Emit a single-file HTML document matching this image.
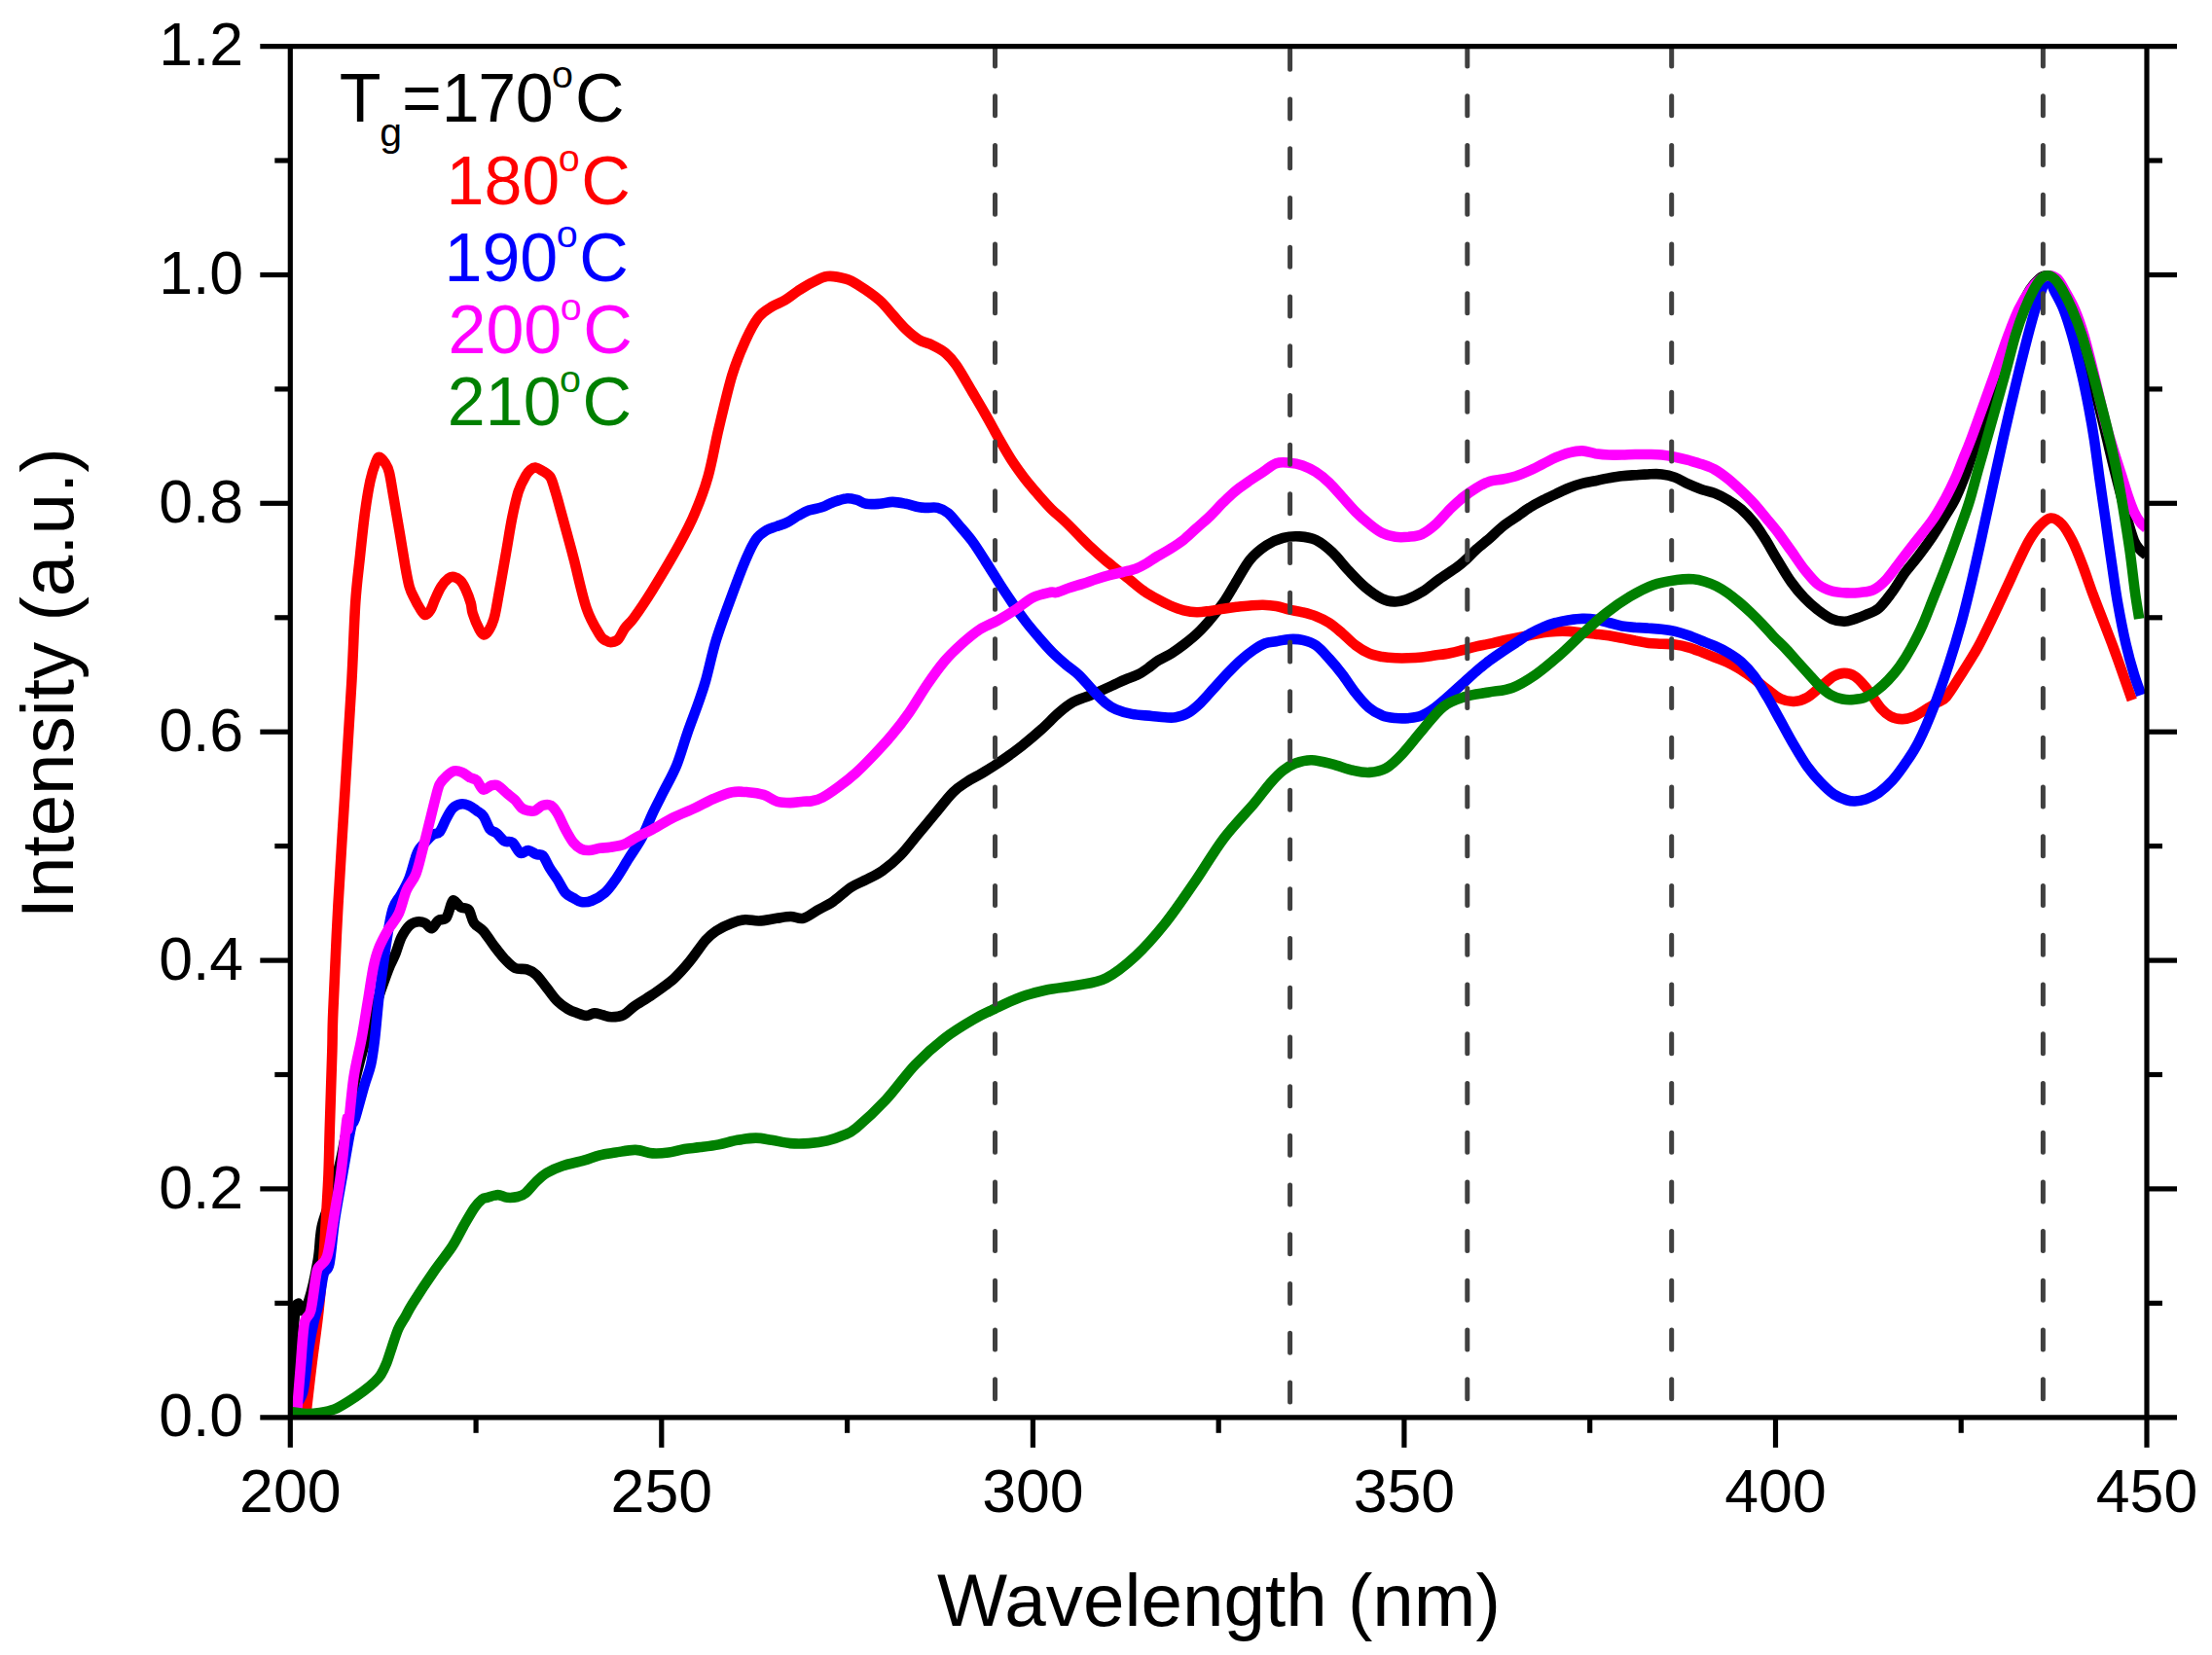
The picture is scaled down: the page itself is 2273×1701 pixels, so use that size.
<!DOCTYPE html>
<html lang="en"><head><meta charset="utf-8"><title>PLE spectra</title>
<style>html,body{margin:0;padding:0;background:#fff;}svg{display:block;}</style>
</head><body>
<svg width="2273" height="1701" viewBox="0 0 2273 1701">
<rect width="2273" height="1701" fill="#ffffff"/>
<defs><clipPath id="plotclip"><rect x="298.3" y="47.6" width="1907.7" height="1412.2"/></clipPath></defs>
<g fill="none" stroke-linejoin="round" stroke-linecap="butt" clip-path="url(#plotclip)">
<path d="M298.5,1456.0C298.8,1446.7 299.2,1417.7 300.0,1400.0C300.8,1382.3 302.0,1360.0 303.0,1350.0C304.0,1340.0 305.0,1340.3 306.2,1339.8C307.4,1339.3 308.1,1347.6 310.0,1347.0C311.9,1346.4 314.7,1344.7 317.5,1336.0C320.3,1327.3 324.6,1307.3 326.8,1294.8C329.0,1282.3 328.3,1271.8 330.6,1261.0C332.9,1250.2 337.4,1241.0 340.5,1230.0C343.6,1219.0 347.0,1205.8 349.5,1195.0C352.0,1184.2 353.6,1174.2 355.5,1165.0C357.4,1155.8 359.6,1148.3 361.0,1140.0C362.4,1131.7 362.5,1123.3 364.0,1115.0C365.5,1106.7 368.0,1097.8 370.0,1090.0C372.0,1082.2 373.8,1075.5 376.0,1068.0C378.2,1060.5 380.7,1052.7 383.0,1045.0C385.3,1037.3 387.8,1028.7 390.0,1022.0C392.2,1015.3 394.2,1010.0 396.0,1005.0C397.8,1000.0 399.2,996.2 401.0,992.0C402.8,987.8 404.6,984.7 406.5,980.0C408.4,975.3 410.0,968.5 412.3,963.7C414.7,959.0 417.8,954.2 420.5,951.5C423.2,948.8 425.9,947.9 428.7,947.4C431.4,947.0 434.3,947.6 436.8,948.8C439.3,949.9 441.4,954.7 443.6,954.2C445.9,953.8 447.9,947.9 450.4,946.1C452.9,944.2 456.3,946.3 458.6,943.3C460.8,940.4 462.6,931.3 464.0,928.4C465.4,925.4 465.1,925.0 466.7,925.7C468.3,926.3 471.0,930.9 473.5,932.5C476.0,934.0 479.4,932.5 481.7,935.2C483.9,937.9 484.6,945.2 487.1,948.8C489.6,952.4 493.2,953.1 496.6,956.9C500.0,960.8 503.9,967.1 507.5,971.9C511.1,976.6 514.8,981.6 518.4,985.5C522.0,989.3 525.4,993.2 529.3,995.0C533.1,996.8 537.9,995.2 541.5,996.4C545.1,997.5 547.6,998.6 551.0,1001.8C554.4,1005.0 558.3,1010.9 561.9,1015.4C565.5,1019.9 569.1,1025.4 572.8,1029.0C576.4,1032.6 580.2,1035.1 583.6,1037.1C587.0,1039.2 590.0,1040.1 593.2,1041.2C596.3,1042.4 599.7,1043.9 602.7,1043.9C605.6,1043.9 608.1,1041.4 610.8,1041.2C613.5,1041.1 616.0,1042.4 619.0,1043.1C621.9,1043.8 624.9,1045.3 628.5,1045.3C632.1,1045.3 636.9,1044.9 640.7,1043.1C644.6,1041.3 646.6,1037.9 651.6,1034.4C656.6,1030.9 663.8,1026.9 670.6,1022.2C677.4,1017.4 686.0,1011.5 692.4,1005.9C698.7,1000.2 703.3,994.8 708.7,988.2C714.1,981.6 720.5,971.7 725.0,966.4C729.6,961.2 731.4,959.9 735.9,956.9C740.4,954.0 747.2,950.7 752.2,948.8C757.2,946.8 761.2,945.6 765.8,945.2C770.4,944.9 774.6,946.7 780.0,946.5C785.4,946.3 792.7,944.5 798.1,943.8C803.5,943.0 808.1,942.0 812.6,942.0C817.1,942.0 820.8,944.9 825.3,943.8C829.8,942.7 834.7,938.5 839.8,935.6C844.9,932.7 850.4,930.5 856.1,926.6C861.8,922.7 868.8,915.7 874.2,912.1C879.6,908.5 883.2,907.7 888.7,904.8C894.2,901.9 900.9,899.0 906.9,894.8C912.9,890.6 919.0,885.6 925.0,879.4C931.0,873.2 937.1,865.0 943.1,857.7C949.1,850.5 955.2,843.1 961.2,835.9C967.2,828.6 974.0,819.6 979.4,814.2C984.8,808.8 989.1,806.5 993.9,803.3C998.7,800.1 1003.6,798.0 1008.4,795.1C1013.2,792.2 1018.1,789.3 1022.9,786.1C1027.7,782.9 1032.6,779.6 1037.4,776.1C1042.2,772.6 1046.5,769.6 1051.9,765.2C1057.3,760.8 1064.0,755.2 1070.0,749.8C1076.0,744.4 1082.7,737.3 1088.1,732.6C1093.5,727.9 1097.2,724.7 1102.6,721.7C1108.0,718.7 1114.0,717.3 1120.7,714.5C1127.4,711.7 1136.8,707.4 1142.7,704.7C1148.6,702.0 1151.8,700.4 1156.3,698.5C1160.8,696.6 1166.1,695.0 1169.9,693.1C1173.8,691.2 1176.0,689.4 1179.4,687.0C1182.8,684.6 1186.2,681.4 1190.3,678.8C1194.4,676.2 1199.4,674.2 1203.9,671.4C1208.4,668.6 1213.0,665.3 1217.5,661.8C1222.0,658.3 1226.6,654.7 1231.1,650.3C1235.6,645.9 1240.2,640.7 1244.7,635.3C1249.2,629.9 1254.2,623.6 1258.3,617.7C1262.4,611.8 1264.7,607.1 1269.1,600.0C1273.5,592.9 1279.2,581.7 1284.6,575.1C1290.0,568.5 1295.9,564.0 1301.5,560.3C1307.1,556.6 1312.8,554.4 1318.4,552.9C1324.0,551.4 1329.7,551.0 1335.3,551.4C1340.9,551.8 1346.6,552.3 1352.2,555.0C1357.8,557.7 1363.5,562.4 1369.1,567.7C1374.7,573.0 1380.3,580.7 1386.0,586.7C1391.7,592.7 1397.3,598.9 1403.0,603.6C1408.7,608.4 1415.0,612.7 1419.9,615.2C1424.8,617.7 1428.4,618.2 1432.6,618.4C1436.8,618.6 1440.3,618.1 1445.2,616.3C1450.1,614.5 1456.6,611.3 1462.2,607.8C1467.8,604.3 1473.3,599.2 1479.1,595.1C1484.9,591.0 1492.6,586.2 1497.0,583.0C1501.4,579.8 1502.1,579.1 1505.5,576.0C1508.9,572.9 1513.0,568.3 1517.2,564.5C1521.4,560.7 1526.3,557.1 1530.8,553.2C1535.3,549.2 1539.8,544.5 1544.4,540.9C1548.9,537.3 1553.4,534.6 1558.0,531.4C1562.5,528.2 1567.0,524.7 1571.6,521.9C1576.1,519.0 1580.6,516.6 1585.2,514.3C1589.7,511.9 1594.2,509.9 1598.8,507.7C1603.3,505.6 1607.8,503.3 1612.3,501.5C1616.9,499.7 1621.4,498.1 1625.9,496.9C1630.5,495.6 1635.0,495.1 1639.5,494.2C1644.1,493.2 1648.6,492.3 1653.1,491.4C1657.7,490.6 1662.2,489.8 1666.7,489.3C1671.3,488.7 1675.8,488.5 1680.3,488.2C1684.9,487.9 1689.4,487.5 1693.9,487.4C1698.4,487.2 1703.0,486.8 1707.5,487.4C1712.0,487.9 1716.6,488.9 1721.1,490.6C1725.6,492.3 1730.2,495.4 1734.7,497.4C1739.2,499.5 1743.8,501.3 1748.3,502.9C1752.8,504.4 1757.4,505.1 1761.9,506.9C1766.4,508.7 1770.9,511.0 1775.5,513.7C1780.0,516.4 1784.6,519.4 1789.1,523.2C1793.5,527.1 1798.1,531.9 1802.1,536.8C1806.2,541.8 1809.1,546.6 1813.3,553.2C1817.4,559.7 1822.3,568.8 1826.9,576.3C1831.4,583.7 1835.9,591.7 1840.5,598.0C1845.0,604.4 1849.5,609.6 1854.0,614.3C1858.6,619.1 1863.0,622.9 1867.6,626.6C1872.3,630.2 1877.5,634.0 1882.1,636.1C1886.7,638.1 1891.1,638.8 1895.1,638.8C1899.1,638.8 1902.4,637.2 1906.0,636.1C1909.6,634.9 1912.8,633.8 1916.9,632.0C1920.9,630.2 1925.9,629.1 1930.5,625.2C1935.0,621.4 1939.5,615.0 1944.1,608.9C1948.6,602.8 1953.1,594.7 1957.6,588.5C1962.2,582.3 1966.5,577.7 1971.2,571.5C1975.9,565.3 1981.5,557.8 1986.0,551.0C1990.5,544.2 1994.6,537.3 1998.4,531.0C2002.2,524.7 2005.4,520.6 2008.9,513.4C2012.4,506.2 2016.3,496.4 2019.5,488.0C2022.7,479.6 2025.9,469.0 2028.0,462.7C2030.1,456.4 2027.7,462.8 2032.2,450.0C2036.7,437.2 2049.4,403.4 2055.0,385.9C2060.6,368.4 2062.5,356.4 2066.0,345.1C2069.5,333.8 2072.7,325.9 2076.0,318.0C2079.3,310.1 2082.7,302.9 2086.0,297.6C2089.3,292.3 2093.2,288.4 2096.0,286.0C2098.8,283.6 2100.7,283.2 2103.0,283.2C2105.3,283.2 2107.7,283.6 2110.0,286.0C2112.3,288.4 2114.2,292.3 2117.0,297.6C2119.8,302.9 2123.7,310.1 2127.0,318.0C2130.3,325.9 2133.4,333.8 2137.0,345.1C2140.6,356.4 2144.7,371.8 2148.5,385.9C2152.3,400.0 2156.1,414.3 2160.0,430.0C2163.9,445.7 2167.8,463.3 2172.0,480.0C2176.2,496.7 2181.5,517.4 2185.0,530.0C2188.5,542.6 2190.5,549.8 2192.9,555.7C2195.3,561.6 2197.1,562.7 2199.2,565.2C2201.3,567.7 2204.5,569.6 2205.6,570.5" stroke="#000000" stroke-width="10.6"/>
<path d="M314.6,1452.1C315.6,1444.0 318.1,1421.0 320.3,1403.4C322.4,1385.9 325.5,1365.7 327.5,1347.0C329.5,1328.3 331.2,1308.2 332.5,1291.0C333.8,1273.8 334.7,1258.0 335.5,1244.0C336.3,1230.0 336.9,1221.0 337.5,1207.0C338.1,1193.0 338.2,1181.0 338.8,1160.0C339.4,1139.0 340.7,1101.0 341.3,1081.0C341.9,1061.0 341.3,1064.9 342.3,1039.9C343.3,1014.9 345.3,969.6 347.4,931.1C349.5,892.6 352.5,847.3 354.8,808.8C357.1,770.3 359.7,731.5 361.4,700.0C363.1,668.5 363.8,641.6 365.2,620.0C366.6,598.4 368.5,586.0 370.1,570.5C371.7,555.0 373.3,539.7 375.0,527.0C376.7,514.3 378.6,502.9 380.4,494.4C382.2,485.9 384.3,480.0 385.9,475.9C387.4,471.8 388.1,469.8 389.7,469.8C391.3,469.8 394.0,473.2 395.7,475.9C397.4,478.5 398.6,479.9 400.0,485.7C401.4,491.5 402.6,500.2 404.4,510.7C406.2,521.2 408.9,536.9 410.9,548.7C412.9,560.5 414.7,572.3 416.3,581.4C417.9,590.5 419.1,597.4 420.7,603.1C422.3,608.8 424.4,611.9 426.1,615.5C427.8,619.1 429.2,621.7 431.0,624.5C432.8,627.3 434.9,631.6 436.8,632.0C438.7,632.4 440.7,629.7 442.4,627.0C444.1,624.3 445.2,620.0 447.0,616.0C448.8,612.0 451.0,606.7 453.3,603.1C455.6,599.5 458.7,596.1 460.9,594.4C463.1,592.7 464.4,592.6 466.4,593.0C468.4,593.4 470.9,594.6 472.9,596.6C474.9,598.6 476.5,601.4 478.3,605.3C480.1,609.2 482.6,615.8 483.8,620.0C485.0,624.2 484.3,626.1 485.8,630.6C487.2,635.1 490.7,643.3 492.6,647.0C494.5,650.6 495.6,652.2 497.2,652.4C498.8,652.6 500.4,651.0 502.1,648.3C503.8,645.6 506.0,640.8 507.5,636.1C509.0,631.4 508.9,630.9 510.9,620.0C512.9,609.1 517.0,585.1 519.6,570.5C522.2,555.9 524.0,543.3 526.2,532.4C528.4,521.5 530.4,512.5 532.7,505.2C535.1,497.9 538.1,492.7 540.3,488.9C542.5,485.1 544.1,483.8 545.7,482.4C547.3,481.0 548.3,480.4 550.1,480.6C551.9,480.8 554.1,481.9 556.6,483.5C559.1,485.1 562.9,486.4 565.3,490.0C567.6,493.6 568.9,499.4 570.7,505.2C572.5,511.0 574.2,517.5 576.2,524.8C578.2,532.0 580.4,540.2 582.7,548.7C585.0,557.2 586.7,563.1 590.0,575.9C593.3,588.7 598.3,612.5 602.7,625.2C607.0,638.0 612.9,646.8 616.3,652.4C619.7,658.0 621.0,657.4 623.1,658.6C625.1,659.9 626.5,660.3 628.5,660.0C630.5,659.7 633.0,659.4 635.3,657.0C637.6,654.6 639.4,649.3 642.1,645.6C644.8,641.9 646.9,641.3 651.6,634.7C656.4,628.1 662.9,618.6 670.6,606.2C678.3,593.7 690.6,573.1 697.8,560.0C705.1,546.8 709.2,539.1 714.1,527.3C719.1,515.5 723.7,503.8 727.7,489.3C731.8,474.8 734.5,457.5 738.6,440.3C742.7,423.1 747.7,400.9 752.2,385.9C756.7,371.0 761.3,360.6 765.8,350.6C770.3,340.6 774.9,332.0 779.4,326.1C783.9,320.2 788.5,318.2 793.0,315.3C797.5,312.3 802.1,311.2 806.6,308.5C811.1,305.7 815.6,301.9 820.2,298.9C824.7,296.0 828.8,293.3 833.8,290.8C838.8,288.3 844.2,284.7 850.1,284.0C856.0,283.3 863.7,285.1 869.1,286.7C874.6,288.3 877.0,289.9 882.7,293.5C888.5,297.1 897.8,303.5 903.6,308.5C909.3,313.4 912.7,318.4 917.2,323.4C921.7,328.4 926.3,334.1 930.8,338.4C935.3,342.7 939.8,346.5 944.4,349.2C948.9,352.0 953.4,352.4 958.0,354.7C962.5,356.9 967.5,359.4 971.6,362.8C975.6,366.2 977.9,368.5 982.4,375.1C987.0,381.6 993.8,393.9 998.8,402.3C1003.7,410.6 1007.8,417.4 1012.3,425.4C1016.9,433.3 1021.4,441.9 1025.9,449.8C1030.5,457.8 1035.0,465.9 1039.5,472.9C1044.1,480.0 1048.6,486.1 1053.1,492.0C1057.7,497.9 1062.2,503.1 1066.7,508.3C1071.3,513.5 1075.8,518.7 1080.3,523.2C1084.9,527.8 1089.4,531.2 1093.9,535.5C1098.4,539.8 1103.0,544.5 1107.5,549.1C1112.0,553.6 1116.6,558.4 1121.1,562.7C1125.6,567.0 1130.2,571.1 1134.7,574.9C1139.2,578.8 1143.8,582.2 1148.3,585.8C1152.8,589.4 1157.4,593.0 1161.9,596.7C1166.4,600.3 1170.9,604.4 1175.5,607.5C1180.0,610.7 1184.5,613.2 1189.1,615.7C1193.6,618.2 1198.1,620.5 1202.7,622.5C1207.2,624.4 1211.7,626.2 1216.3,627.4C1220.8,628.5 1225.3,629.2 1229.9,629.3C1234.4,629.4 1238.9,628.5 1243.5,627.9C1248.0,627.3 1252.5,626.4 1257.0,625.7C1261.6,625.1 1266.1,624.4 1270.6,623.8C1275.2,623.3 1279.7,622.8 1284.2,622.5C1288.8,622.1 1293.3,621.6 1297.8,621.7C1302.4,621.8 1306.9,622.2 1311.4,623.0C1316.0,623.8 1320.5,625.5 1325.0,626.6C1329.6,627.6 1334.1,628.1 1338.6,629.3C1343.1,630.4 1347.7,631.5 1352.2,633.4C1356.7,635.2 1361.3,637.2 1365.8,640.2C1370.3,643.1 1374.9,647.2 1379.4,651.0C1383.9,654.9 1388.5,659.9 1393.0,663.3C1397.5,666.7 1402.1,669.5 1406.6,671.4C1411.1,673.4 1415.6,674.1 1420.2,675.0C1424.7,675.8 1429.2,676.1 1433.8,676.3C1438.3,676.5 1442.8,676.5 1447.4,676.3C1451.9,676.2 1456.4,676.0 1461.0,675.5C1465.5,675.0 1469.7,674.3 1474.6,673.6C1479.4,672.9 1485.2,672.2 1490.0,671.2C1494.8,670.3 1499.1,669.1 1503.6,668.0C1508.1,666.8 1512.7,665.5 1517.2,664.4C1521.7,663.4 1526.3,662.7 1530.8,661.7C1535.3,660.7 1539.8,659.5 1544.4,658.5C1548.9,657.5 1553.4,656.6 1558.0,655.7C1562.5,654.8 1567.0,653.9 1571.6,653.0C1576.1,652.1 1580.6,651.0 1585.2,650.3C1589.7,649.6 1594.2,649.2 1598.8,648.9C1603.3,648.7 1607.8,648.7 1612.3,648.9C1616.9,649.2 1621.4,649.8 1625.9,650.3C1630.5,650.8 1635.0,651.2 1639.5,651.7C1644.1,652.2 1648.6,652.6 1653.1,653.3C1657.7,654.0 1662.2,654.9 1666.7,655.7C1671.3,656.6 1675.8,657.6 1680.3,658.5C1684.9,659.3 1689.4,660.4 1693.9,660.9C1698.4,661.4 1703.0,661.4 1707.5,661.7C1712.0,662.0 1716.6,661.9 1721.1,662.5C1725.6,663.1 1730.2,664.0 1734.7,665.3C1739.2,666.5 1743.8,668.4 1748.3,670.1C1752.8,671.9 1757.4,673.8 1761.9,675.6C1766.4,677.4 1770.9,678.9 1775.5,681.0C1780.0,683.2 1784.5,685.6 1789.1,688.4C1793.6,691.2 1798.1,694.5 1802.7,697.9C1807.2,701.3 1811.7,705.4 1816.3,708.8C1820.8,712.2 1825.3,716.2 1829.9,718.3C1834.4,720.3 1838.9,721.2 1843.5,721.0C1848.0,720.8 1852.5,719.4 1857.0,716.9C1861.6,714.4 1866.1,709.7 1870.6,706.0C1875.2,702.4 1880.2,697.5 1884.2,695.2C1888.3,692.8 1891.5,691.9 1895.1,691.9C1898.7,691.9 1902.4,692.8 1906.0,695.2C1909.6,697.5 1913.9,702.6 1916.9,706.0C1919.8,709.4 1921.1,711.8 1923.8,715.5C1926.5,719.2 1930.1,725.0 1933.2,728.5C1936.3,732.0 1939.1,734.4 1942.6,736.2C1946.1,738.0 1950.5,739.0 1954.4,739.1C1958.3,739.2 1962.3,738.3 1966.2,736.7C1970.1,735.1 1974.1,732.1 1978.0,729.7C1981.9,727.4 1986.1,724.9 1989.8,722.6C1993.5,720.4 1995.8,721.1 2000.0,716.2C2004.2,711.3 2009.9,701.5 2015.3,693.1C2020.7,684.7 2026.9,675.1 2032.2,665.6C2037.5,656.1 2042.1,646.2 2047.0,636.0C2051.9,625.8 2057.2,614.2 2061.8,604.3C2066.4,594.4 2070.6,584.9 2074.5,576.8C2078.4,568.7 2081.5,561.7 2085.0,555.7C2088.5,549.7 2091.9,544.8 2095.6,540.9C2099.3,537.0 2103.3,532.9 2107.2,532.5C2111.1,532.1 2115.2,534.9 2118.9,538.8C2122.6,542.7 2125.9,548.7 2129.4,555.7C2132.9,562.7 2136.5,571.8 2140.0,581.0C2143.5,590.2 2147.1,601.2 2150.6,610.7C2154.1,620.2 2157.7,629.1 2161.2,638.2C2164.7,647.4 2168.2,656.1 2171.7,665.6C2175.2,675.1 2179.1,686.2 2182.3,695.2C2185.5,704.2 2189.4,715.5 2190.8,719.6" stroke="#ff0000" stroke-width="10.6"/>
<path d="M300.0,1447.0C301.8,1444.4 308.1,1441.9 311.0,1431.5C313.9,1421.1 315.6,1396.9 317.5,1384.7C319.4,1372.5 320.8,1366.0 322.5,1358.5C324.2,1351.0 325.8,1347.9 327.5,1339.8C329.2,1331.7 330.7,1316.7 332.5,1309.8C334.3,1302.9 336.6,1308.0 338.5,1298.6C340.4,1289.2 341.7,1268.9 344.0,1253.6C346.3,1238.3 349.4,1222.4 352.1,1206.8C354.9,1191.2 358.4,1169.5 360.5,1160.0C362.6,1150.5 362.5,1157.3 364.8,1150.0C367.1,1142.6 371.6,1125.3 374.3,1116.0C377.0,1106.7 379.3,1102.4 381.1,1094.2C382.9,1086.1 383.8,1078.4 385.2,1067.0C386.5,1055.7 387.7,1039.9 389.2,1026.3C390.8,1012.7 393.0,997.7 394.7,985.5C396.4,973.2 398.0,961.7 399.6,952.9C401.2,944.0 402.1,938.1 404.2,932.5C406.3,926.8 409.6,923.9 412.3,918.9C415.1,913.9 418.1,908.7 420.5,902.6C422.9,896.4 425.2,886.9 426.8,882.2C428.3,877.4 428.3,876.7 430.0,874.0C431.7,871.3 434.3,868.6 436.8,865.9C439.3,863.1 442.5,859.5 445.0,857.7C447.5,855.9 449.5,857.7 451.8,855.0C454.0,852.3 456.3,845.5 458.6,841.4C460.8,837.3 462.9,833.0 465.4,830.5C467.9,828.0 470.8,826.9 473.5,826.4C476.2,826.0 479.0,826.7 481.7,827.8C484.4,828.9 487.3,831.4 489.8,833.2C492.3,835.0 494.4,835.5 496.6,838.7C498.9,841.8 501.2,849.3 503.4,852.3C505.7,855.2 507.7,854.3 510.2,856.3C512.7,858.4 515.7,862.9 518.4,864.5C521.1,866.1 523.8,863.8 526.5,865.9C529.3,867.9 532.0,875.4 534.7,876.7C537.4,878.1 540.1,873.8 542.9,874.0C545.6,874.2 548.5,877.2 551.0,878.1C553.5,879.0 555.5,877.2 557.8,879.4C560.1,881.7 562.1,887.6 564.6,891.7C567.1,895.8 570.0,899.6 572.8,903.9C575.5,908.2 578.2,914.3 580.9,917.5C583.6,920.7 586.4,921.4 589.1,922.9C591.8,924.5 594.1,926.6 597.2,927.0C600.4,927.5 604.0,927.3 608.1,925.7C612.2,924.1 617.6,921.1 621.7,917.5C625.8,913.9 628.5,909.8 632.6,903.9C636.7,898.0 641.6,889.4 646.2,882.2C650.7,874.9 655.7,868.1 659.8,860.4C663.8,852.7 667.0,843.6 670.6,835.9C674.3,828.2 677.4,822.3 681.5,814.2C685.6,806.0 691.0,797.0 695.1,787.0C699.2,777.0 702.4,764.8 706.0,754.4C709.6,744.0 713.7,733.5 716.9,724.5C720.0,715.4 721.8,711.1 725.0,700.0C728.2,688.9 731.4,672.6 735.9,657.8C740.4,643.1 747.2,625.2 752.2,611.6C757.2,598.0 761.7,585.8 765.8,576.3C769.9,566.7 773.1,559.7 776.7,554.5C780.3,549.3 783.9,547.3 787.6,545.0C791.2,542.7 794.8,542.3 798.4,540.9C802.1,539.6 805.7,538.7 809.3,536.8C812.9,535.0 816.6,532.1 820.2,530.0C823.8,528.0 827.0,526.1 831.1,524.6C835.1,523.2 840.6,522.7 844.6,521.3C848.7,520.0 851.4,517.9 855.5,516.4C859.6,515.0 865.0,512.8 869.1,512.4C873.2,511.9 876.5,512.8 880.0,513.7C883.5,514.6 886.1,517.1 890.0,517.8C893.9,518.5 899.1,518.1 903.6,517.8C908.1,517.5 912.7,515.9 917.2,515.9C921.7,515.9 926.3,516.9 930.8,517.8C935.3,518.7 940.8,520.7 944.4,521.3C948.0,522.0 949.4,521.8 952.5,521.9C955.7,522.0 959.8,521.0 963.4,521.9C967.0,522.8 970.7,524.4 974.3,527.3C977.9,530.3 981.1,534.8 985.2,539.6C989.2,544.3 994.2,549.8 998.8,555.9C1003.3,562.0 1007.6,568.9 1012.3,576.3C1017.1,583.6 1022.5,592.6 1027.2,600.0C1031.9,607.4 1036.3,613.8 1040.8,620.4C1045.3,627.0 1049.9,633.5 1054.4,639.4C1058.9,645.3 1063.5,650.5 1068.0,655.7C1072.5,660.9 1077.1,666.2 1081.6,670.7C1086.1,675.2 1090.6,679.0 1095.1,682.9C1099.6,686.8 1104.2,689.5 1108.7,693.8C1113.2,698.1 1117.8,704.0 1122.3,708.7C1126.8,713.5 1131.8,718.9 1135.9,722.3C1140.0,725.7 1142.3,727.2 1146.8,729.1C1151.3,731.0 1157.0,732.8 1163.1,733.9C1169.2,735.0 1177.8,735.3 1183.5,735.9C1189.2,736.5 1193.0,737.1 1197.1,737.3C1201.2,737.5 1204.2,738.0 1208.0,737.3C1211.8,736.6 1215.9,735.7 1220.2,733.2C1224.5,730.7 1229.3,726.6 1233.8,722.3C1238.3,718.0 1242.9,712.4 1247.4,707.4C1251.9,702.4 1256.5,697.2 1261.0,692.4C1265.5,687.6 1270.1,682.9 1274.6,678.8C1279.1,674.7 1284.0,670.9 1288.2,668.0C1292.4,665.1 1296.1,662.7 1300.0,661.2C1303.9,659.7 1307.3,659.9 1311.4,659.2C1315.6,658.5 1320.5,657.2 1325.0,657.0C1329.6,656.8 1334.1,656.8 1338.6,657.8C1343.1,658.9 1347.7,660.1 1352.2,663.3C1356.7,666.4 1361.3,671.9 1365.8,676.9C1370.3,681.8 1374.9,687.3 1379.4,693.2C1383.9,699.1 1388.5,706.6 1393.0,712.2C1397.5,717.9 1402.1,723.3 1406.6,727.2C1411.1,731.0 1415.6,733.5 1420.2,735.3C1424.7,737.2 1429.2,737.6 1433.8,738.1C1438.3,738.5 1442.8,738.5 1447.4,738.1C1451.9,737.6 1456.4,737.2 1461.0,735.3C1465.5,733.5 1469.7,730.7 1474.6,727.2C1479.4,723.7 1485.2,718.4 1490.0,714.2C1494.8,710.0 1499.1,706.0 1503.6,702.0C1508.1,697.9 1512.7,693.6 1517.2,689.7C1521.7,685.9 1526.3,682.2 1530.8,678.8C1535.3,675.4 1539.8,672.4 1544.4,669.3C1548.9,666.2 1553.4,663.3 1558.0,660.4C1562.5,657.4 1567.0,654.2 1571.6,651.7C1576.1,649.1 1580.6,646.8 1585.2,644.9C1589.7,642.9 1594.2,641.2 1598.8,640.0C1603.3,638.7 1607.8,637.9 1612.3,637.2C1616.9,636.6 1621.4,636.0 1625.9,635.9C1630.5,635.8 1635.0,636.0 1639.5,636.7C1644.1,637.4 1648.6,638.8 1653.1,640.0C1657.7,641.1 1662.2,642.7 1666.7,643.5C1671.3,644.3 1675.8,644.5 1680.3,644.9C1684.9,645.2 1689.4,645.4 1693.9,645.7C1698.4,646.0 1703.0,646.2 1707.5,646.8C1712.0,647.3 1716.6,647.9 1721.1,648.9C1725.6,650.0 1730.2,651.4 1734.7,653.0C1739.2,654.6 1743.8,656.6 1748.3,658.5C1752.8,660.3 1757.4,661.9 1761.9,663.9C1766.4,665.9 1770.9,668.0 1775.5,670.7C1780.0,673.4 1784.5,676.1 1789.1,680.2C1793.6,684.3 1798.1,689.0 1802.7,695.2C1807.2,701.3 1811.7,709.2 1816.3,716.9C1820.8,724.6 1825.3,733.2 1829.9,741.4C1834.4,749.5 1838.9,758.1 1843.5,765.9C1848.0,773.6 1852.5,781.3 1857.0,787.6C1861.6,793.9 1866.1,799.2 1870.6,803.9C1875.2,808.7 1879.7,813.1 1884.2,816.2C1888.8,819.2 1894.2,821.2 1897.8,822.4C1901.5,823.6 1902.8,823.6 1906.0,823.5C1909.2,823.4 1912.8,823.0 1916.9,821.6C1920.9,820.1 1925.9,818.0 1930.5,814.8C1935.0,811.6 1939.5,807.5 1944.1,802.6C1948.6,797.6 1953.1,791.5 1957.6,784.9C1962.2,778.3 1966.2,773.1 1971.2,763.1C1976.3,753.1 1982.6,738.2 1987.8,724.8C1993.0,711.4 1998.0,696.7 2002.6,682.6C2007.2,668.5 2011.4,654.4 2015.3,640.3C2019.2,626.2 2022.4,612.8 2025.9,598.0C2029.4,583.2 2032.9,567.4 2036.4,551.5C2039.9,535.6 2043.3,519.8 2047.0,502.9C2050.7,486.0 2054.2,469.5 2058.6,450.0C2063.0,430.5 2069.4,403.4 2073.6,385.9C2077.8,368.4 2080.9,356.4 2083.8,345.1C2086.8,333.8 2088.9,325.9 2091.3,318.0C2093.7,310.1 2096.3,302.9 2098.0,298.0C2099.7,293.1 2100.2,290.8 2101.2,288.5C2102.2,286.2 2103.2,284.2 2104.2,284.2C2105.2,284.2 2106.2,286.2 2107.3,288.5C2108.4,290.8 2108.4,293.1 2110.6,298.0C2112.8,302.9 2117.4,310.1 2120.5,318.0C2123.6,325.9 2126.1,333.8 2129.3,345.1C2132.5,356.4 2136.6,373.4 2139.5,385.9C2142.4,398.4 2144.4,409.0 2146.5,420.0C2148.6,431.0 2150.2,439.9 2152.0,452.0C2153.8,464.1 2155.6,478.5 2157.5,492.3C2159.4,506.1 2161.6,520.5 2163.6,534.6C2165.6,548.7 2167.5,562.7 2169.6,576.8C2171.7,590.9 2173.5,605.0 2176.0,619.1C2178.5,633.2 2181.6,649.1 2184.4,661.4C2187.2,673.7 2190.2,684.3 2192.9,693.1C2195.6,701.9 2199.1,710.8 2200.3,714.3" stroke="#0000ff" stroke-width="10.6"/>
<path d="M305.3,1449.0C305.9,1441.3 307.8,1417.8 309.0,1403.0C310.2,1388.2 311.1,1369.3 312.8,1360.0C314.5,1350.7 317.3,1355.3 319.3,1347.0C321.3,1338.7 323.6,1317.5 325.0,1310.0C326.4,1302.5 325.9,1305.2 327.8,1302.0C329.7,1298.8 333.7,1299.1 336.2,1291.0C338.7,1282.9 340.4,1267.6 342.7,1253.6C345.0,1239.6 347.9,1224.1 350.2,1206.8C352.5,1189.5 355.4,1157.8 356.6,1150.0C357.9,1142.2 356.6,1167.0 357.7,1160.0C358.8,1153.0 361.1,1123.3 363.4,1107.8C365.7,1092.3 369.1,1080.6 371.6,1067.0C374.1,1053.5 376.3,1038.5 378.4,1026.3C380.4,1014.0 382.0,1002.2 383.8,993.6C385.6,985.0 386.7,980.9 389.2,974.6C391.7,968.3 395.4,961.5 398.8,955.6C402.2,949.7 406.5,946.1 409.6,939.3C412.8,932.5 414.8,921.6 417.8,914.8C420.7,908.0 424.6,905.3 427.3,898.5C430.0,891.7 431.6,883.5 434.1,874.0C436.6,864.5 440.0,850.4 442.3,841.4C444.5,832.3 446.1,825.5 447.7,819.6C449.3,813.7 450.0,809.7 451.8,806.0C453.6,802.4 456.1,800.1 458.6,797.9C461.1,795.6 464.0,793.1 466.7,792.4C469.4,791.8 472.2,792.7 474.9,793.8C477.6,794.9 480.5,797.9 483.0,799.2C485.5,800.6 487.6,799.9 489.8,802.0C492.1,804.0 494.1,810.6 496.6,811.5C499.1,812.4 502.3,808.1 504.8,807.4C507.3,806.7 508.9,806.0 511.6,807.4C514.3,808.8 518.2,813.1 521.1,815.6C524.0,818.0 526.8,819.9 529.3,822.3C531.8,824.8 533.8,828.7 536.1,830.5C538.3,832.3 540.6,832.8 542.9,833.2C545.1,833.7 547.2,834.1 549.7,833.2C552.1,832.3 555.1,828.7 557.8,827.8C560.5,826.9 563.5,826.4 566.0,827.8C568.5,829.1 570.3,831.9 572.8,835.9C575.3,840.0 578.2,847.3 580.9,852.3C583.6,857.2 586.4,862.5 589.1,865.9C591.8,869.2 594.5,871.3 597.2,872.6C600.0,874.0 602.2,874.1 605.4,874.0C608.6,873.9 612.6,872.4 616.3,871.8C619.9,871.3 623.1,871.4 627.1,870.7C631.2,870.1 636.2,869.7 640.7,868.0C645.3,866.3 649.3,863.0 654.3,860.4C659.3,857.8 664.3,855.7 670.6,852.3C677.0,848.9 685.1,843.6 692.4,840.0C699.6,836.4 707.3,833.7 714.1,830.5C720.9,827.3 726.8,823.7 733.2,821.0C739.5,818.3 746.3,815.3 752.2,814.2C758.1,813.1 763.1,813.7 768.5,814.2C774.0,814.6 779.8,815.3 784.8,816.9C789.8,818.5 793.9,822.3 798.4,823.7C803.0,825.1 807.5,825.1 812.0,825.1C816.6,825.1 821.9,824.0 825.6,823.7C829.3,823.4 831.1,823.9 834.4,823.2C837.7,822.5 840.7,822.0 845.2,819.6C849.7,817.2 855.9,812.9 861.6,808.7C867.4,804.5 873.7,799.6 879.7,794.2C885.7,788.8 891.8,782.4 897.8,776.1C903.8,769.8 909.8,763.5 915.9,756.2C922.0,749.0 928.0,741.3 934.1,732.6C940.2,723.9 946.4,712.9 952.5,704.0C958.6,695.1 964.6,686.6 970.6,679.5C976.6,672.4 982.7,666.8 988.7,661.4C994.8,656.0 1000.9,650.8 1006.9,646.9C1012.9,643.0 1019.0,641.1 1025.0,637.8C1031.0,634.5 1037.1,630.8 1043.1,626.9C1049.1,623.0 1055.2,617.2 1061.2,614.2C1067.2,611.2 1075.3,609.7 1079.4,608.8C1083.5,607.9 1082.4,609.7 1085.8,608.9C1089.1,608.1 1094.8,605.5 1099.4,604.0C1103.9,602.5 1108.4,601.4 1112.9,599.9C1117.5,598.5 1122.0,596.7 1126.5,595.3C1131.1,593.8 1135.6,592.4 1140.1,591.2C1144.7,590.0 1149.2,589.1 1153.7,588.0C1158.3,586.8 1163.2,585.9 1167.3,584.4C1171.4,582.9 1174.6,581.1 1178.2,579.0C1181.8,576.9 1185.0,574.4 1189.1,571.9C1193.2,569.4 1198.1,566.9 1202.7,564.0C1207.2,561.2 1211.7,558.4 1216.3,554.8C1220.8,551.2 1225.3,546.6 1229.9,542.6C1234.4,538.5 1238.9,534.7 1243.5,530.3C1248.0,525.9 1252.5,520.7 1257.0,516.3C1261.6,511.9 1266.1,507.5 1270.6,503.8C1275.2,500.1 1279.7,497.1 1284.2,494.0C1288.8,490.9 1293.3,488.1 1297.8,485.1C1302.4,482.1 1306.9,477.8 1311.4,476.2C1316.0,474.6 1320.5,475.3 1325.0,475.7C1329.6,476.0 1334.1,476.8 1338.6,478.4C1343.1,480.0 1347.7,482.2 1352.2,485.2C1356.7,488.1 1361.3,491.8 1365.8,496.1C1370.3,500.4 1374.9,506.0 1379.4,511.0C1383.9,516.0 1388.5,521.4 1393.0,526.0C1397.5,530.5 1402.1,534.6 1406.6,538.2C1411.1,541.8 1415.6,545.5 1420.2,547.7C1424.7,550.0 1429.2,551.1 1433.8,551.8C1438.3,552.5 1442.8,552.2 1447.4,551.8C1451.9,551.3 1456.4,551.1 1461.0,549.1C1465.5,547.0 1469.7,543.9 1474.6,539.6C1479.4,535.3 1485.2,528.0 1490.0,523.2C1494.8,518.5 1499.1,514.6 1503.6,511.0C1508.1,507.4 1512.7,504.2 1517.2,501.5C1521.7,498.8 1526.3,496.2 1530.8,494.7C1535.3,493.2 1539.8,493.4 1544.4,492.5C1548.9,491.6 1553.4,490.7 1558.0,489.3C1562.5,487.8 1567.0,485.9 1571.6,483.8C1576.1,481.8 1580.6,479.3 1585.2,477.0C1589.7,474.8 1594.2,472.2 1598.8,470.2C1603.3,468.3 1607.8,466.5 1612.3,465.3C1616.9,464.2 1621.4,463.3 1625.9,463.4C1630.5,463.6 1635.0,465.5 1639.5,466.2C1644.1,466.8 1648.6,467.3 1653.1,467.5C1657.7,467.7 1662.2,467.6 1666.7,467.5C1671.3,467.4 1675.8,467.1 1680.3,467.0C1684.9,466.9 1689.4,466.9 1693.9,467.0C1698.4,467.1 1703.0,467.1 1707.5,467.5C1712.0,468.0 1716.6,468.8 1721.1,469.7C1725.6,470.6 1730.2,471.7 1734.7,472.9C1739.2,474.2 1743.8,475.4 1748.3,477.0C1752.8,478.6 1757.4,480.0 1761.9,482.5C1766.4,485.0 1770.9,488.4 1775.5,492.0C1780.0,495.6 1784.5,499.9 1789.1,504.2C1793.6,508.5 1798.3,513.1 1802.7,517.8C1807.0,522.6 1811.1,527.8 1815.2,532.8C1819.3,537.7 1823.1,542.1 1827.4,547.7C1831.6,553.4 1836.4,560.4 1841.0,566.7C1845.5,573.1 1850.0,580.1 1854.5,585.8C1859.1,591.4 1863.5,597.1 1868.1,600.7C1872.8,604.4 1877.5,606.1 1882.4,607.5C1887.4,609.0 1893.0,609.2 1897.8,609.4C1902.7,609.7 1906.9,609.4 1911.4,608.9C1916.0,608.3 1920.5,608.4 1925.0,606.2C1929.6,603.9 1934.1,600.1 1938.6,595.3C1943.1,590.5 1947.7,583.5 1952.2,577.6C1956.7,571.7 1960.2,567.1 1965.8,560.0C1971.4,552.8 1980.3,542.4 1985.7,534.6C1991.1,526.8 1994.5,520.4 1998.4,513.4C2002.3,506.3 2005.7,499.4 2008.9,492.3C2012.1,485.2 2014.6,478.2 2017.4,471.1C2020.2,464.1 2020.6,464.2 2025.9,450.0C2031.2,435.8 2042.8,403.4 2049.1,385.9C2055.3,368.4 2059.2,356.4 2063.4,345.1C2067.6,333.8 2070.5,325.9 2074.3,318.0C2078.2,310.1 2082.7,302.9 2086.5,297.6C2090.3,292.4 2093.8,288.9 2097.0,286.5C2100.2,284.1 2102.7,283.2 2105.5,283.2C2108.3,283.2 2111.4,284.1 2114.0,286.5C2116.6,288.9 2118.2,292.4 2121.2,297.6C2124.2,302.9 2128.6,310.1 2132.0,318.0C2135.4,325.9 2138.0,333.1 2141.5,345.1C2145.0,357.1 2149.1,374.2 2153.0,390.0C2156.9,405.8 2160.3,422.9 2165.0,440.0C2169.7,457.1 2177.6,480.8 2181.2,492.3C2184.8,503.8 2184.6,503.6 2186.5,509.2C2188.4,514.8 2190.8,521.5 2192.9,526.1C2195.0,530.7 2197.1,533.9 2199.2,536.7C2201.3,539.5 2204.5,542.0 2205.6,543.0" stroke="#ff00ff" stroke-width="10.6"/>
<path d="M298.7,1451.0C301.2,1451.3 308.7,1452.8 313.7,1453.0C318.7,1453.2 323.7,1452.8 328.7,1452.0C333.7,1451.2 338.7,1450.4 343.7,1448.4C348.7,1446.4 353.7,1443.1 358.7,1440.0C363.7,1436.9 369.2,1433.0 373.6,1429.7C378.0,1426.4 381.9,1423.1 384.9,1420.3C387.9,1417.5 389.4,1415.9 391.4,1412.8C393.4,1409.7 395.1,1406.3 397.0,1401.6C398.9,1396.9 400.7,1390.6 402.7,1384.7C404.7,1378.8 406.9,1371.3 409.2,1366.0C411.5,1360.7 414.2,1357.3 416.7,1352.9C419.2,1348.5 419.0,1347.7 424.0,1339.8C429.0,1331.9 439.8,1315.6 446.6,1305.8C453.4,1296.0 459.9,1288.5 464.8,1280.9C469.7,1273.4 472.3,1267.1 476.1,1260.5C479.9,1253.9 484.2,1246.2 487.4,1241.5C490.6,1236.8 493.3,1234.3 495.5,1232.5C497.7,1230.7 498.0,1231.5 500.7,1230.8C503.4,1230.1 508.2,1228.1 511.6,1228.1C515.0,1228.1 517.7,1230.5 521.1,1230.8C524.5,1231.1 528.8,1230.8 532.0,1230.0C535.2,1229.2 537.0,1228.8 540.1,1226.2C543.3,1223.6 547.4,1217.9 551.0,1214.5C554.6,1211.0 557.4,1208.2 561.9,1205.5C566.4,1202.8 571.9,1200.3 578.2,1198.2C584.5,1196.0 593.6,1194.6 600.0,1192.7C606.3,1190.9 610.8,1188.7 616.3,1187.3C621.7,1185.9 626.5,1185.5 632.6,1184.6C638.7,1183.7 646.6,1181.7 653.0,1181.9C659.3,1182.0 665.0,1184.9 670.6,1185.4C676.3,1185.9 681.5,1185.3 687.0,1184.6C692.4,1183.9 697.8,1182.0 703.3,1181.0C708.7,1180.1 713.7,1179.9 719.6,1179.1C725.5,1178.4 732.3,1177.7 738.6,1176.4C745.0,1175.2 751.3,1172.9 757.6,1171.8C764.0,1170.7 770.8,1169.6 776.7,1169.6C782.6,1169.6 787.1,1170.9 793.0,1171.8C798.9,1172.7 805.7,1174.5 812.0,1175.1C818.4,1175.6 824.7,1175.5 831.1,1175.1C837.4,1174.6 844.2,1173.7 850.1,1172.3C856.0,1171.0 861.4,1169.1 866.4,1166.9C871.4,1164.7 872.7,1165.3 880.0,1159.2C887.3,1153.1 900.1,1141.3 910.2,1130.5C920.3,1119.7 930.3,1104.9 940.4,1094.3C950.5,1083.7 960.5,1074.9 970.6,1067.1C980.7,1059.3 992.2,1052.5 1000.8,1047.5C1009.4,1042.5 1014.0,1040.7 1022.0,1036.9C1030.0,1033.1 1040.0,1028.1 1049.1,1024.8C1058.1,1021.5 1066.7,1019.3 1076.3,1017.3C1085.9,1015.3 1096.4,1014.8 1106.5,1012.8C1116.6,1010.8 1126.6,1010.2 1136.7,1005.2C1146.8,1000.2 1156.8,991.9 1166.9,982.6C1177.0,973.3 1187.0,961.9 1197.1,949.3C1207.2,936.7 1217.2,921.7 1227.3,907.1C1237.4,892.5 1247.2,875.3 1257.5,861.7C1267.8,848.1 1280.8,835.2 1288.8,825.6C1296.8,816.0 1300.8,810.0 1305.7,804.4C1310.6,798.8 1314.2,795.1 1318.4,791.8C1322.6,788.5 1326.2,786.2 1331.1,784.4C1336.0,782.6 1341.7,781.0 1348.0,781.2C1354.3,781.4 1362.0,783.6 1369.1,785.4C1376.1,787.2 1383.9,790.4 1390.3,791.8C1396.7,793.2 1401.6,794.3 1407.2,793.9C1412.8,793.5 1418.5,792.8 1424.1,789.6C1429.7,786.4 1434.7,781.5 1441.0,774.8C1447.3,768.1 1455.2,757.6 1462.2,749.5C1469.2,741.4 1476.1,731.8 1483.3,726.2C1490.5,720.6 1497.8,718.6 1505.5,716.1C1513.2,713.6 1521.6,713.0 1529.7,711.5C1537.8,710.0 1545.9,710.0 1553.9,707.0C1562.0,704.0 1570.0,698.9 1578.0,693.4C1586.0,687.9 1594.1,680.8 1602.2,673.8C1610.3,666.8 1618.3,658.4 1626.4,651.1C1634.5,643.8 1642.5,636.3 1650.6,630.0C1658.6,623.7 1666.7,618.1 1674.7,613.3C1682.8,608.5 1690.8,604.1 1698.9,601.2C1707.0,598.3 1716.2,597.1 1723.1,596.1C1729.9,595.1 1735.2,595.0 1740.0,595.3C1744.8,595.6 1747.9,596.5 1751.8,597.7C1755.7,598.9 1759.7,600.4 1763.6,602.4C1767.5,604.4 1771.4,606.8 1775.3,609.5C1779.2,612.2 1783.2,615.6 1787.1,618.9C1791.0,622.2 1795.0,625.8 1798.9,629.5C1802.8,633.2 1806.8,637.2 1810.7,641.3C1814.6,645.4 1818.6,650.2 1822.5,654.3C1826.4,658.4 1830.4,661.9 1834.3,666.0C1838.2,670.1 1842.1,674.7 1846.0,679.0C1849.9,683.3 1853.9,687.7 1857.8,692.0C1861.7,696.3 1865.7,701.2 1869.6,704.9C1873.5,708.6 1877.5,712.0 1881.4,714.3C1885.3,716.6 1889.3,717.7 1893.2,718.5C1897.1,719.3 1901.0,719.3 1904.9,719.0C1908.8,718.7 1912.8,718.3 1916.7,716.7C1920.6,715.1 1924.6,712.6 1928.5,709.6C1932.4,706.6 1936.4,703.1 1940.3,699.0C1944.2,694.9 1948.2,690.4 1952.1,684.9C1956.0,679.4 1959.9,673.1 1963.8,666.0C1967.7,658.9 1971.7,651.3 1975.6,642.5C1979.5,633.7 1983.3,623.2 1987.4,613.0C1991.5,602.8 1996.1,591.5 2000.0,581.2C2003.9,571.0 2007.2,562.1 2011.0,551.5C2014.8,540.9 2019.3,529.3 2023.0,517.7C2026.7,506.1 2029.8,493.0 2033.0,481.7C2036.2,470.4 2037.5,466.0 2042.0,450.0C2046.5,434.0 2055.2,403.4 2060.0,385.9C2064.8,368.4 2067.5,356.4 2070.9,345.1C2074.3,333.8 2077.2,325.9 2080.4,318.0C2083.6,310.1 2087.1,302.8 2089.9,297.6C2092.7,292.4 2094.6,289.4 2097.0,287.0C2099.4,284.6 2101.8,283.2 2104.2,283.2C2106.6,283.2 2109.0,284.6 2111.5,287.0C2114.0,289.4 2116.1,292.4 2119.1,297.6C2122.1,302.8 2125.9,310.1 2129.3,318.0C2132.7,325.9 2135.9,333.8 2139.5,345.1C2143.1,356.4 2147.4,372.3 2151.1,385.9C2154.8,399.5 2159.1,415.7 2161.9,426.7C2164.7,437.7 2165.8,442.4 2168.0,452.0C2170.2,461.6 2172.7,472.0 2175.0,484.0C2177.3,496.0 2179.7,510.3 2182.0,524.0C2184.3,537.7 2186.6,552.2 2188.6,566.3C2190.6,580.4 2192.3,597.0 2193.9,608.6C2195.5,620.2 2197.5,631.4 2198.2,636.0" stroke="#008000" stroke-width="10.6"/>
</g>
<g stroke="#404040" stroke-width="5.0" stroke-linecap="round" stroke-dasharray="20 30.73" fill="none">
<line x1="1022.5" y1="48.1" x2="1022.5" y2="1450.8"/>
<line x1="1325.6" y1="48.1" x2="1325.6" y2="1450.8" stroke-dashoffset="-3.2"/>
<line x1="1507.8" y1="48.1" x2="1507.8" y2="1450.8"/>
<line x1="1717.7" y1="48.1" x2="1717.7" y2="1450.8"/>
<line x1="2099.4" y1="48.1" x2="2099.4" y2="1450.8"/>
</g>
<g stroke="#000" stroke-width="5.2" fill="none" stroke-linecap="butt">
<line x1="298.3" y1="45.0" x2="298.3" y2="1487.8"/>
<line x1="2206.0" y1="45.0" x2="2206.0" y2="1487.8"/>
<line x1="267.3" y1="47.6" x2="2237.0" y2="47.6"/>
<line x1="267.3" y1="1456.8" x2="2237.0" y2="1456.8"/>
<line x1="282.3" y1="1339.4" x2="298.3" y2="1339.4"/>
<line x1="2206.0" y1="1339.4" x2="2222.0" y2="1339.4"/>
<line x1="267.3" y1="1221.9" x2="298.3" y2="1221.9"/>
<line x1="2206.0" y1="1221.9" x2="2237.0" y2="1221.9"/>
<line x1="282.3" y1="1104.5" x2="298.3" y2="1104.5"/>
<line x1="2206.0" y1="1104.5" x2="2222.0" y2="1104.5"/>
<line x1="267.3" y1="987.1" x2="298.3" y2="987.1"/>
<line x1="2206.0" y1="987.1" x2="2237.0" y2="987.1"/>
<line x1="282.3" y1="869.6" x2="298.3" y2="869.6"/>
<line x1="2206.0" y1="869.6" x2="2222.0" y2="869.6"/>
<line x1="267.3" y1="752.2" x2="298.3" y2="752.2"/>
<line x1="2206.0" y1="752.2" x2="2237.0" y2="752.2"/>
<line x1="282.3" y1="634.8" x2="298.3" y2="634.8"/>
<line x1="2206.0" y1="634.8" x2="2222.0" y2="634.8"/>
<line x1="267.3" y1="517.3" x2="298.3" y2="517.3"/>
<line x1="2206.0" y1="517.3" x2="2237.0" y2="517.3"/>
<line x1="282.3" y1="399.9" x2="298.3" y2="399.9"/>
<line x1="2206.0" y1="399.9" x2="2222.0" y2="399.9"/>
<line x1="267.3" y1="282.5" x2="298.3" y2="282.5"/>
<line x1="2206.0" y1="282.5" x2="2237.0" y2="282.5"/>
<line x1="282.3" y1="165.0" x2="298.3" y2="165.0"/>
<line x1="2206.0" y1="165.0" x2="2222.0" y2="165.0"/>
<line x1="489.1" y1="1456.8" x2="489.1" y2="1472.8"/>
<line x1="679.8" y1="1456.8" x2="679.8" y2="1487.8"/>
<line x1="870.6" y1="1456.8" x2="870.6" y2="1472.8"/>
<line x1="1061.4" y1="1456.8" x2="1061.4" y2="1487.8"/>
<line x1="1252.2" y1="1456.8" x2="1252.2" y2="1472.8"/>
<line x1="1442.9" y1="1456.8" x2="1442.9" y2="1487.8"/>
<line x1="1633.7" y1="1456.8" x2="1633.7" y2="1472.8"/>
<line x1="1824.5" y1="1456.8" x2="1824.5" y2="1487.8"/>
<line x1="2015.2" y1="1456.8" x2="2015.2" y2="1472.8"/>
</g>
<g font-family="Liberation Sans, Arial, Helvetica, sans-serif" font-size="62.6" fill="#000">
<text x="250.2" y="1476.4" text-anchor="end">0.0</text>
<text x="250.2" y="1241.5" text-anchor="end">0.2</text>
<text x="250.2" y="1006.7" text-anchor="end">0.4</text>
<text x="250.2" y="771.8" text-anchor="end">0.6</text>
<text x="250.2" y="536.9" text-anchor="end">0.8</text>
<text x="250.2" y="302.1" text-anchor="end">1.0</text>
<text x="250.2" y="67.2" text-anchor="end">1.2</text>
<text x="298.3" y="1554.3" text-anchor="middle">200</text>
<text x="679.8" y="1554.3" text-anchor="middle">250</text>
<text x="1061.4" y="1554.3" text-anchor="middle">300</text>
<text x="1442.9" y="1554.3" text-anchor="middle">350</text>
<text x="1824.5" y="1554.3" text-anchor="middle">400</text>
<text x="2206.0" y="1554.3" text-anchor="middle">450</text>
</g>
<text font-family="Liberation Sans, Arial, Helvetica, sans-serif" font-size="76.4" x="1252.5" y="1670.5" text-anchor="middle" fill="#000">Wavelength (nm)</text>
<text font-family="Liberation Sans, Arial, Helvetica, sans-serif" font-size="76.4" transform="translate(75.4,702.3) rotate(-90)" text-anchor="middle" fill="#000">Intensity (a.u.)</text>
<text font-family="Liberation Sans, Arial, Helvetica, sans-serif" font-size="70" y="124.7" fill="#000"><tspan x="348.8">T</tspan><tspan font-size="41" x="390.3" dy="25">g</tspan><tspan x="413.0" dy="-25">=</tspan><tspan x="453.8">1</tspan><tspan x="491.2">7</tspan><tspan x="529.8">0</tspan><tspan font-size="39.5" x="566.9" dy="-34.3">o</tspan><tspan x="591.0" dy="34.3">C</tspan></text>
<text font-family="Liberation Sans, Arial, Helvetica, sans-serif" font-size="70" y="209.9" fill="#ff0000"><tspan x="458.5">180</tspan><tspan font-size="39.5" x="573.7" dy="-34.3">o</tspan><tspan x="597.2" dy="34.3">C</tspan></text>
<text font-family="Liberation Sans, Arial, Helvetica, sans-serif" font-size="70" y="288.7" fill="#0000ff"><tspan x="456.5">190</tspan><tspan font-size="39.5" x="571.7" dy="-34.3">o</tspan><tspan x="595.2" dy="34.3">C</tspan></text>
<text font-family="Liberation Sans, Arial, Helvetica, sans-serif" font-size="70" y="363.2" fill="#ff00ff"><tspan x="460.5">200</tspan><tspan font-size="39.5" x="575.7" dy="-34.3">o</tspan><tspan x="599.2" dy="34.3">C</tspan></text>
<text font-family="Liberation Sans, Arial, Helvetica, sans-serif" font-size="70" y="437.0" fill="#008000"><tspan x="459.8">210</tspan><tspan font-size="39.5" x="575.0" dy="-34.3">o</tspan><tspan x="598.5" dy="34.3">C</tspan></text>
</svg>
</body></html>
